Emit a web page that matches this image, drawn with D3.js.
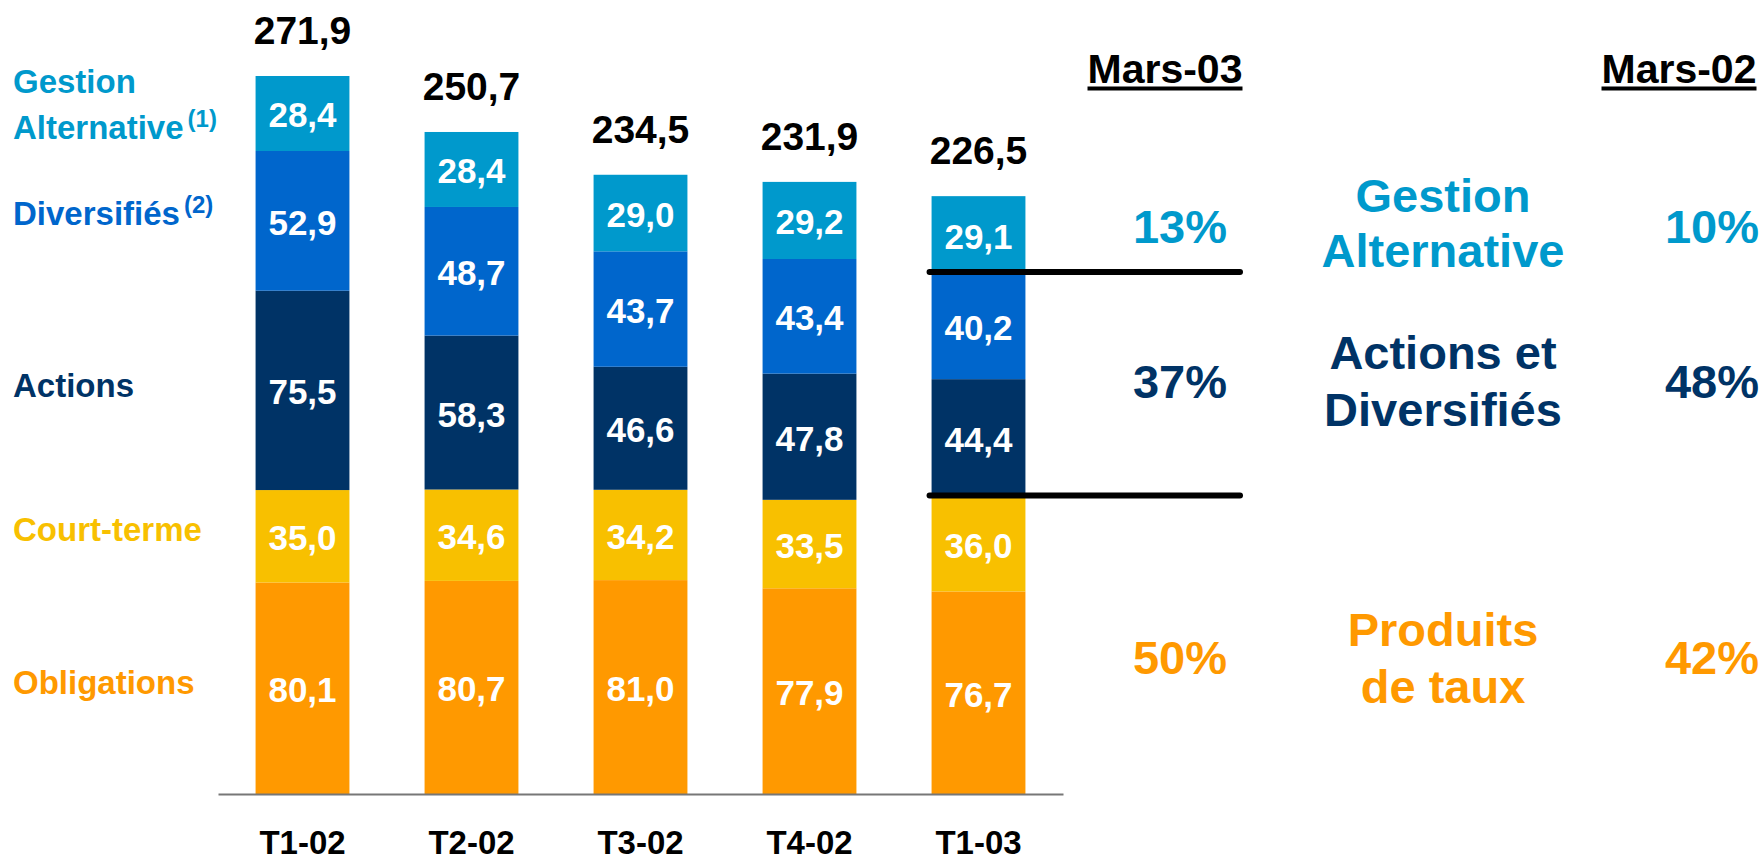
<!DOCTYPE html>
<html>
<head>
<meta charset="utf-8">
<script src="https://cdn.jsdelivr.net/npm/d3@7"></script>
<style>
  html, body { margin: 0; padding: 0; background: #fff; }
  svg { display: block; font-family: "Liberation Sans", Arial, sans-serif; font-weight: bold; }
</style>
</head>
<body>
<div id="chart"></div>
<script>
// ── Encours par classe d'actifs (Md€) ─────────────────────
const categories = ['T1-02', 'T2-02', 'T3-02', 'T4-02', 'T1-03'];
const obligations = [80.1, 80.7, 81.0, 77.9, 76.7];
const courtTerme = [35.0, 34.6, 34.2, 33.5, 36.0];
const actions = [75.5, 58.3, 46.6, 47.8, 44.4];
const diversifies = [52.9, 48.7, 43.7, 43.4, 40.2];
const gestionAlt = [28.4, 28.4, 29.0, 29.2, 29.1];
const totals = [271.9, 250.7, 234.5, 231.9, 226.5];

// right-hand breakdown
const mixGroups = [['Gestion', 'Alternative'], ['Actions et', 'Diversifiés'], ['Produits', 'de taux']];
const mixMars03 = [13, 37, 50];
const mixMars02 = [10, 48, 42];
const mixHeaders = ['Mars-03', 'Mars-02'];

const seriesKeys = ['obligations', 'courtTerme', 'actions', 'diversifies', 'gestionAlt'];
const seriesNames = {
    obligations: 'Obligations',
    courtTerme: 'Court-terme',
    actions: 'Actions',
    diversifies: 'Diversifiés',
    gestionAlt: 'Gestion'
};
const colors = {
    obligations: '#ff9900',
    courtTerme: '#f8c000',
    actions: '#003366',
    diversifies: '#0066cc',
    gestionAlt: '#0099cc'
};
const mixColors = ['#0099cc', '#003366', '#ff9900'];

const width = 1764, height = 856;
const fr = d3.formatLocale({ decimal: ',', thousands: ' ', grouping: [3], currency: ['', '€'] });
const fmt = fr.format('.1f');

const rows = categories.map((c, i) => ({
    cat: c,
    obligations: obligations[i],
    courtTerme: courtTerme[i],
    actions: actions[i],
    diversifies: diversifies[i],
    gestionAlt: gestionAlt[i],
    total: totals[i]
}));

const stacked = d3.stack().keys(seriesKeys)(rows);

const svg = d3.select('#chart').append('svg')
    .attr('width', width)
    .attr('height', height);

const x = d3.scaleBand()
    .domain(categories)
    .range([218, 1063])
    .paddingInner(0.4446)
    .paddingOuter(0.2223);

const y = d3.scaleLinear()
    .domain([0, 271.9])
    .range([794, 76]);

// Bars
const layer = svg.append('g')
    .selectAll('g')
    .data(stacked)
    .join('g')
    .attr('fill', d => colors[d.key]);

layer.selectAll('rect')
    .data(d => d)
    .join('rect')
    .attr('x', d => x(d.data.cat))
    .attr('y', d => y(d[1]))
    .attr('width', x.bandwidth())
    .attr('height', d => y(d[0]) - y(d[1]));

// Segment values
layer.selectAll('text')
    .data(d => d.map(p => ({ p, key: d.key })))
    .join('text')
    .attr('x', d => x(d.p.data.cat) + x.bandwidth() / 2)
    .attr('y', d => (y(d.p[0]) + y(d.p[1])) / 2 + 14)
    .attr('text-anchor', 'middle')
    .attr('fill', '#fff')
    .attr('font-size', 35)
    .text(d => fmt(d.p.data[d.key]));

// Totals
svg.append('g')
    .selectAll('text')
    .data(rows)
    .join('text')
    .attr('x', d => x(d.cat) + x.bandwidth() / 2)
    .attr('y', d => y(d3.sum(seriesKeys, k => d[k])) - 32)
    .attr('text-anchor', 'middle')
    .attr('fill', '#000')
    .attr('font-size', 39)
    .text(d => fmt(d.total));

// Axis
const axis = svg.append('g')
    .attr('transform', `translate(0,${y(0)})`)
    .call(d3.axisBottom(x).tickSize(0).tickSizeOuter(0).tickPadding(0));
axis.select('.domain').attr('stroke', '#777').attr('stroke-width', 2);
axis.selectAll('text')
    .attr('font-size', 33)
    .attr('font-family', '"Liberation Sans", Arial, sans-serif')
    .attr('font-weight', 'bold')
    .attr('fill', '#000')
    .attr('dy', null)
    .attr('y', 60);

// Left legend labels
const legendY = { gestionAlt: 93, diversifies: 225, actions: 397, courtTerme: 541, obligations: 694 };
const legend = svg.append('g').attr('font-size', 33);

const ga = legend.append('text').attr('x', 13).attr('y', legendY.gestionAlt).attr('fill', colors.gestionAlt);
ga.append('tspan').text('Gestion');
ga.append('tspan').attr('x', 13).attr('dy', 46).text('Alternative');
ga.append('tspan').attr('dx', 4).attr('dy', -12).attr('font-size', 24).text('(1)');

const dv = legend.append('text').attr('x', 13).attr('y', legendY.diversifies).attr('fill', colors.diversifies);
dv.append('tspan').text('Diversifiés');
dv.append('tspan').attr('dx', 4).attr('dy', -12).attr('font-size', 24).text('(2)');

['actions', 'courtTerme', 'obligations'].forEach(k => {
    legend.append('text')
        .attr('x', 13)
        .attr('y', legendY[k])
        .attr('fill', colors[k])
        .text(seriesNames[k]);
});

// Separator lines across the last bar
const last = rows[rows.length - 1];
const sepValues = [
    last.obligations + last.courtTerme + last.actions + last.diversifies,
    last.obligations + last.courtTerme
];
svg.append('g')
    .selectAll('line')
    .data(sepValues)
    .join('line')
    .attr('x1', x(last.cat) - 2)
    .attr('x2', 1240)
    .attr('y1', d => y(d) - 1)
    .attr('y2', d => y(d) - 1)
    .attr('stroke', '#000')
    .attr('stroke-width', 6)
    .attr('stroke-linecap', 'round');

// Right-hand breakdown
const colX = [1165, 1679];
const pctX = [1180, 1712];
const groupX = 1443;
const pctY = [243, 398, 674];
const groupY = [[212, 267], [369, 426], [646, 703]];

colX.forEach((cx, i) => {
    const t = svg.append('text')
        .attr('x', cx)
        .attr('y', 83)
        .attr('text-anchor', 'middle')
        .attr('font-size', 41)
        .attr('fill', '#000')
        .text(mixHeaders[i]);
    const bb = t.node().getBBox();
    svg.append('rect')
        .attr('x', bb.x)
        .attr('y', 86.5)
        .attr('width', bb.width)
        .attr('height', 4)
        .attr('fill', '#000');
});

[mixMars03, mixMars02].forEach((vals, i) => {
    svg.append('g')
        .selectAll('text')
        .data(vals)
        .join('text')
        .attr('x', pctX[i])
        .attr('y', (d, j) => pctY[j])
        .attr('text-anchor', 'middle')
        .attr('font-size', 47)
        .attr('fill', (d, j) => mixColors[j])
        .text(d => d + '%');
});

mixGroups.forEach((lines, j) => {
    const t = svg.append('text')
        .attr('text-anchor', 'middle')
        .attr('font-size', 47)
        .attr('fill', mixColors[j]);
    lines.forEach((l, k) => {
        t.append('tspan')
            .attr('x', groupX)
            .attr('y', groupY[j][k])
            .text(l);
    });
});
</script>
</body>
</html>
